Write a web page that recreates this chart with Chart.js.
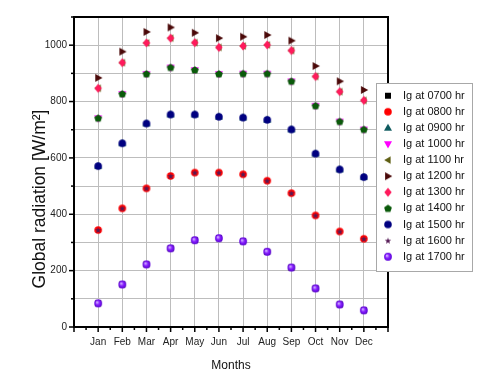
<!DOCTYPE html>
<html><head><meta charset="utf-8">
<script src="https://cdn.jsdelivr.net/npm/chart.js@4/dist/chart.umd.min.js"></script>
<style>html,body{margin:0;padding:0;background:#fff;}#wrap{width:480px;height:374px;}</style>
</head><body><div id="wrap"><canvas id="c" width="480" height="374"></canvas></div>
<script>
// ---- data ----
const months = ['Jan','Feb','Mar','Apr','May','Jun','Jul','Aug','Sep','Oct','Nov','Dec'];
const yTickLabels = [0, 200, 400, 600, 800, 1000];
const hours = ['0700','0800','0900','1000','1100','1200','1300','1400','1500','1600','1700'];

const ig0700 = [84, 151, 222, 279, 308, 315, 304, 267, 211, 137, 80, 59];
const ig0800 = [344, 421, 492, 536, 548, 548, 542, 519, 475, 396, 339, 313];
const ig0900 = [571, 652, 722, 754, 754, 746, 743, 735, 701, 615, 559, 532];
const ig1000 = [741, 827, 898, 921, 912, 898, 899, 899, 872, 785, 729, 701];
const ig1100 = [847, 938, 1008, 1025, 1009, 992, 997, 1001, 981, 889, 835, 804];
const ig1200 = [884, 977, 1047, 1063, 1044, 1025, 1030, 1036, 1016, 926, 872, 841];
const ig1300 = [847, 938, 1008, 1025, 1009, 992, 997, 1001, 981, 889, 835, 804];
const ig1400 = [741, 827, 898, 921, 912, 898, 899, 899, 872, 785, 729, 701];
const ig1500 = [571, 652, 722, 754, 754, 746, 743, 735, 701, 615, 559, 532];
const ig1600 = [344, 421, 492, 536, 548, 548, 542, 519, 475, 396, 339, 313];
const ig1700 = [84, 151, 222, 279, 308, 315, 304, 267, 211, 137, 80, 59];
const seriesValues = [ig0700, ig0800, ig0900, ig1000, ig1100, ig1200, ig1300, ig1400, ig1500, ig1600, ig1700];

// ---- marker images ----
function mk(draw){const s=14;const c=document.createElement('canvas');c.width=s;c.height=s;const g=c.getContext('2d');g.translate(s/2,s/2);draw(g);return c;}
function poly(g,pts,col){g.beginPath();pts.forEach((p,i)=>i?g.lineTo(p[0],p[1]):g.moveTo(p[0],p[1]));g.closePath();g.fillStyle=col;g.fill();}
function circ(g,r,col){g.beginPath();g.arc(0,0,r,0,Math.PI*2);g.fillStyle=col;g.fill();}
const markers = [
  mk(g=>{g.fillStyle='#000';g.fillRect(-3,-3,6,6);}),
  mk(g=>circ(g,3.8,'#ff0000')),
  mk(g=>poly(g,[[0,-4.2],[4,2.8],[-4,2.8]],'#0d5a5e')),
  mk(g=>poly(g,[[0,4.6],[4,-2.8],[-4,-2.8]],'#ff00ff')),
  mk(g=>poly(g,[[-3.8,0],[2.6,-3.8],[2.6,3.8]],'#5e5e12')),
  mk(g=>poly(g,[[4.3,0],[-2.9,-4.1],[-2.9,4.1]],'#4a0808')),
  mk(g=>poly(g,[[0,-4.4],[3.7,0],[0,4.4],[-3.7,0]],'#ff1a5c')),
  mk(g=>{const p=[];for(let k=0;k<5;k++){const a=-Math.PI/2+k*2*Math.PI/5;p.push([4.1*Math.cos(a),4.1*Math.sin(a)+0.3]);}poly(g,p,'#0a5a0a');}),
  mk(g=>circ(g,3.8,'#000080')),
  mk(g=>{const p=[];for(let k=0;k<10;k++){const a=-Math.PI/2+k*Math.PI/5;const r=k%2?1.4:3.4;p.push([r*Math.cos(a),r*Math.sin(a)+0.3]);}poly(g,p,'#551a55');}),
  mk(g=>{const gr=g.createRadialGradient(-1.2,-1.2,0.3,0,0,4);gr.addColorStop(0,'#d8c0ff');gr.addColorStop(0.45,'#8a22ff');gr.addColorStop(1,'#5a00d8');g.beginPath();g.arc(0,0,3.9,0,Math.PI*2);g.fillStyle=gr;g.fill();})
];

const datasets = hours.map((h,i)=>({
  label: 'Ig at ' + h + ' hr',
  data: seriesValues[i].map((v,j)=>({x:j+1,y:v})),
  showLine:false,
  pointStyle: markers[i],
  pointRadius: 4,
  order: hours.length - i
}));

const gridCol = '#bdbdbd';
const F = 'Liberation Sans, Arial, sans-serif';

const decor = {
  id:'decor',
  afterDraw(chart){
    const {ctx, chartArea:a, scales:{x,y}} = chart;
    ctx.save();
    ctx.strokeStyle='#000'; ctx.lineWidth=1.5;
    for(let v=0; v<=1100; v+=100){
      const py=y.getPixelForValue(v); const L = v%200===0?5:3;
      ctx.beginPath(); ctx.moveTo(a.left-L,py); ctx.lineTo(a.left,py); ctx.stroke();
    }
    for(let v=0; v<=13; v+=0.5){
      const px=x.getPixelForValue(v); const L = Number.isInteger(v)?5:3;
      ctx.beginPath(); ctx.moveTo(px,a.bottom); ctx.lineTo(px,a.bottom+L); ctx.stroke();
    }
    ctx.lineWidth=2; ctx.strokeRect(a.left,a.top,a.right-a.left,a.bottom-a.top);
    ctx.fillStyle='#111'; ctx.textAlign='center'; ctx.textBaseline='middle';
    ctx.font='12px '+F; ctx.fillText('Months',(a.left+a.right)/2,365.5);
    ctx.save(); ctx.translate(40,199); ctx.rotate(-Math.PI/2);
    ctx.font='17.5px '+F; ctx.fillText('Global radiation [W/m\u00B2]',0,0); ctx.restore();
    const lx=376, ly=83, lw=96, lh=188;
    ctx.fillStyle='#fff'; ctx.fillRect(lx,ly,lw,lh);
    ctx.strokeStyle='#a8a8a8'; ctx.lineWidth=1; ctx.strokeRect(lx+0.5,ly+0.5,lw,lh);
    ctx.font='11px '+F; ctx.textAlign='left'; ctx.fillStyle='#111';
    chart.data.datasets.forEach((d,i)=>{
      const yy = 95.7 + i*16.1;
      const m = d.pointStyle;
      ctx.drawImage(m, 388-m.width/2, yy-m.height/2);
      ctx.fillText(d.label, 403, yy);
    });
    ctx.restore();
  }
};

new Chart(document.getElementById('c'), {
  type:'scatter',
  data:{datasets},
  plugins:[decor],
  options:{
    responsive:false, animation:false, devicePixelRatio:1,
    layout:{padding:{left:0,top:17,right:92,bottom:0}},
    plugins:{legend:{display:false},tooltip:{enabled:false}},
    scales:{
      x:{type:'linear',min:0,max:13,
        afterFit(s){s.height=47;},
        grid:{drawTicks:false,color:c=>{const v=c.tick&&c.tick.value;return (Number.isInteger(v)&&v>=1&&v<=12)?gridCol:'rgba(0,0,0,0)';}},
        border:{display:false},
        ticks:{stepSize:0.5,autoSkip:false,maxRotation:0,padding:9,color:'#222',font:{family:F,size:10},
          callback:v=>(Number.isInteger(v)&&v>=1&&v<=12)?months[v-1]:''}
      },
      y:{min:0,max:1100,
        afterFit(s){s.width=74;},
        grid:{drawTicks:false,color:gridCol},
        border:{display:false},
        ticks:{stepSize:100,padding:7,color:'#222',font:{family:F,size:10},
          callback:v=>yTickLabels.includes(v)?String(v):''}
      }
    }
  }
});
</script></body></html>
